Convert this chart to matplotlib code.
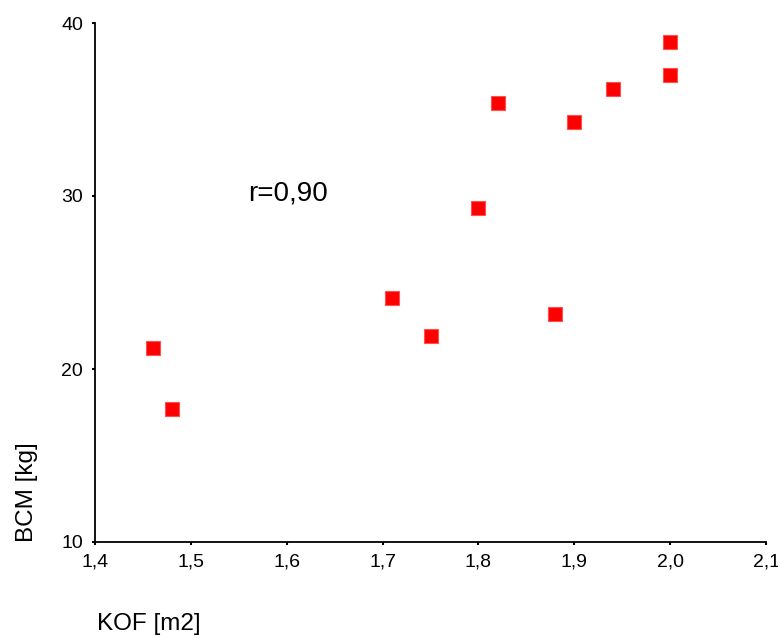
import matplotlib
matplotlib.use("Agg")
import matplotlib.pyplot as plt

plt.rcParams["font.family"] = ["Liberation Sans", "DejaVu Sans"]

kof = [1.46, 1.48, 1.71, 1.75, 1.80, 1.82, 1.88, 1.90, 1.94, 2.00, 2.00]
bcm = [21.2, 17.7, 24.1, 21.9, 29.3, 35.4, 23.2, 34.3, 36.2, 38.9, 37.0]

x_ticks = [1.4, 1.5, 1.6, 1.7, 1.8, 1.9, 2.0, 2.1]
x_labels = ["1,4", "1,5", "1,6", "1,7", "1,8", "1,9", "2,0", "2,1"]
y_ticks = [10, 20, 30, 40]

fig = plt.figure(figsize=(7.78, 6.37), dpi=100)
ax = fig.add_axes([95 / 778, 95 / 637, 671 / 778, 519 / 637])

ax.plot(kof, bcm, linestyle="none", marker="s", markersize=9.5,
        markerfacecolor="#ff0000", markeredgecolor="#ff5050",
        markeredgewidth=0.8, clip_on=False)

ax.set_xlim(1.4, 2.1)
ax.set_ylim(10, 40)
ax.set_xticks(x_ticks)
ax.set_xticklabels(x_labels)
ax.set_yticks(y_ticks)

for side in ["top", "right"]:
    ax.spines[side].set_visible(False)
for side in ["left", "bottom"]:
    ax.spines[side].set_linewidth(1.3)

ax.tick_params(direction="out", length=2.5, width=1.5, labelsize=14, pad=6)

# correlation note
ax.text(1.5595, 29.72, "r=0,90", fontsize=20, ha="left", va="baseline")

fig.text(97 / 778, 1 - 630 / 637, "KOF [m2]", fontsize=17.5, ha="left", va="baseline")
fig.text(27 / 778, 1 - 542 / 637, "BCM [kg]", fontsize=17.5, rotation=90,
         ha="center", va="bottom")

fig.savefig("out.png", dpi=100)
